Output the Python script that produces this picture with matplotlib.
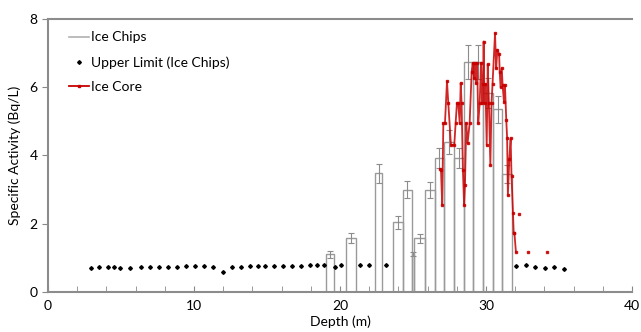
import matplotlib as mpl
import matplotlib.pyplot as plt
from matplotlib.lines import Line2D
import numpy as np

mpl.rc('font', family=['Lato', 'DejaVu Sans'], size=10)

# ice chips: depth interval (top, bottom), activity and error
chip_top = [19.05, 20.4, 22.4, 23.6, 24.3, 24.9, 25.1, 25.85, 26.5, 27.1, 27.8, 28.5, 29.1, 29.8, 30.5, 31.1]
chip_bot = [19.6, 21.1, 22.9, 24.3, 24.9, 25.1, 25.85, 26.5, 27.1, 27.8, 28.5, 29.1, 29.8, 30.5, 31.1, 31.8]
chip_val = [1.11, 1.58, 3.48, 2.05, 3.0, 1.12, 1.57, 2.99, 3.93, 4.4, 3.93, 6.75, 6.75, 5.83, 5.35, 3.45]
chip_err = [0.1, 0.14, 0.28, 0.19, 0.24, 0.06, 0.14, 0.24, 0.3, 0.35, 0.3, 0.5, 0.5, 0.45, 0.4, 0.27]

# upper limits (ice chips)
ul_depth = [2.96, 3.49, 4.13, 4.55, 4.94, 5.64, 6.40, 7.01, 7.63, 8.24, 8.85, 9.47, 10.08,
            10.67, 11.31, 11.96, 12.57, 13.21, 13.85, 14.36, 14.86, 15.45, 16.09, 16.70,
            17.32, 17.93, 18.44, 18.91, 19.66, 20.08, 21.37, 22.01, 23.18,
            32.04, 32.71, 33.38, 34.02, 34.69, 35.36]
ul_val = [0.70, 0.72, 0.72, 0.72, 0.70, 0.70, 0.74, 0.72, 0.72, 0.72, 0.72, 0.77, 0.76,
          0.76, 0.74, 0.58, 0.72, 0.72, 0.76, 0.76, 0.76, 0.77, 0.76, 0.76,
          0.76, 0.78, 0.78, 0.78, 0.73, 0.78, 0.79, 0.79, 0.79,
          0.76, 0.78, 0.72, 0.69, 0.72, 0.66]

# ice core (NaN breaks the line for isolated points)
core_depth = [26.85, 26.92, 27.0, 27.08, 27.19, 27.33, 27.42, 27.6, 27.83, 27.92, 28.01, 28.1,
              28.2, 28.27, 28.33, 28.42, 28.5, 28.56, 28.65, 28.74, 28.88, 29.02, 29.09, 29.18,
              29.25, 29.32, 29.4, 29.47, 29.57, 29.66, 29.74, 29.8, 29.84, 29.9, 29.96, 30.05,
              30.12, 30.2, 30.3, 30.38, 30.45, 30.62, 30.7, 30.78, 30.9, 30.94, 31.0, 31.08,
              31.14, 31.23, 31.3, 31.39, 31.45, 31.5, 31.6, 31.69, 31.75, 31.85, 31.9, 31.95,
              32.05, 32.1, 32.26, 32.5, 32.88, 33.5, 34.2]
core_val = [3.6, 3.58, 2.55, 4.94, 4.94, 6.17, 5.53, 4.31, 4.31, 4.94, 5.53, 5.53,
            4.94, 6.12, 5.53, 3.58, 2.55, 3.14, 4.94, 4.36, 4.94, 6.46, 6.7, 6.27,
            6.7, 6.12, 6.7, 4.94, 5.53, 6.7, 5.53, 6.1, 7.34, 5.53, 6.1, 4.31,
            6.67, 5.53, 3.72, 5.53, 6.1, 7.58, 6.56, 7.1, 6.97, 6.46, 6.0, 6.56,
            6.06, 5.58, 6.06, 5.04, 4.5, 2.84, 3.91, 4.5, 3.39, 2.31, 1.72, 1.72,
            1.18, np.nan, 2.29, np.nan, 1.18, np.nan, 1.18]

fig = plt.figure(figsize=(6.41, 3.32), dpi=100)
ax = fig.add_axes([0.0749, 0.1205, 0.911, 0.8223])

chip_top = np.array(chip_top)
chip_bot = np.array(chip_bot)
ax.bar(chip_top, chip_val, width=chip_bot - chip_top, align='edge', fill=False,
       edgecolor='#9a9a9a', linewidth=1.0, zorder=2)
ax.errorbar((chip_top + chip_bot) / 2, chip_val, yerr=chip_err, fmt='none',
            ecolor='#8c8c8c', elinewidth=0.8, capsize=2, capthick=0.8, zorder=3)

ax.plot(ul_depth, ul_val, 'D', color='black', markersize=1.9, zorder=4)

ax.plot(core_depth, core_val, '-s', color='#c80000', linewidth=1.3, markersize=1.6,
        alpha=0.85, zorder=5)

ax.set_xlim(0, 40)
ax.set_ylim(0, 8)
ax.set_xticks([0, 10, 20, 30, 40])
ax.set_xticks(np.arange(0, 41, 2), minor=True)
ax.set_yticks([0, 2, 4, 6, 8])
ax.tick_params(axis='x', which='both', direction='in', length=4, color='#888888', pad=6)
ax.tick_params(axis='y', direction='out', length=4, color='#888888')
for s in ['left', 'bottom', 'top']:
    ax.spines[s].set_color('#8c8c8c')
    ax.spines[s].set_linewidth(1.5)
ax.spines['right'].set_visible(False)

ax.set_xlabel('Depth (m)', labelpad=2)
ax.set_ylabel('Specific Activity (Bq/L)', labelpad=6)

handles = [Line2D([], [], color='#b0b0b0', linewidth=1.2),
           Line2D([], [], marker='D', color='black', linestyle='none', markersize=1.9),
           Line2D([], [], color='#c80000', linewidth=1.3, marker='s', markersize=1.6)]
ax.legend(handles, ['Ice Chips', 'Upper Limit (Ice Chips)', 'Ice Core'], loc='upper left',
          frameon=False, handlelength=1.4, handletextpad=0.2, labelspacing=0.9,
          bbox_to_anchor=(0.015, 1.0))

fig.savefig('out.png', dpi=100)
